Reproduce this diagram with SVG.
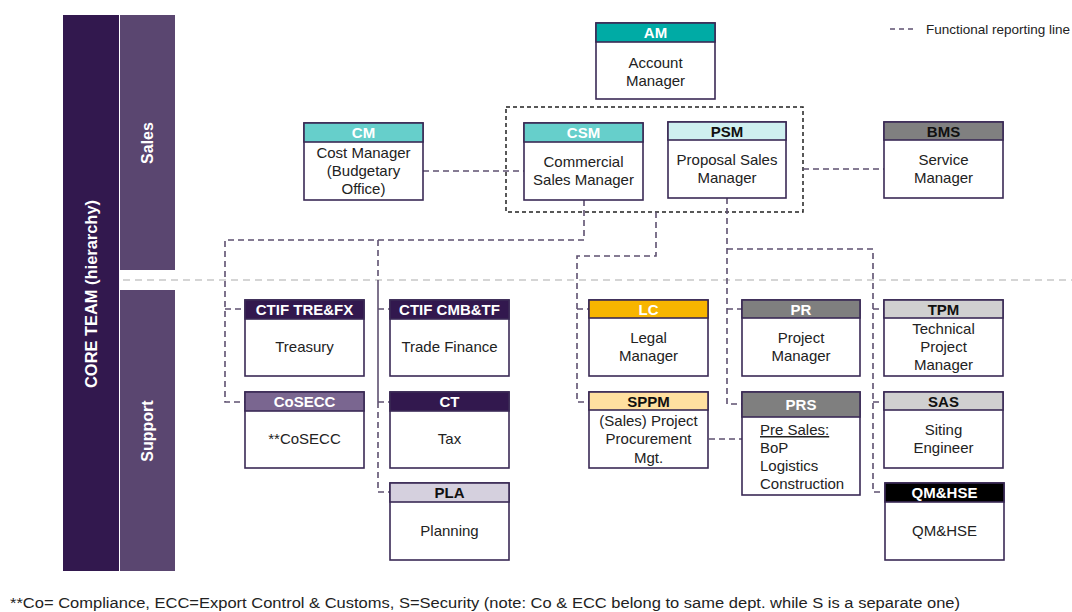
<svg xmlns="http://www.w3.org/2000/svg" width="1072" height="612" viewBox="0 0 1072 612">
<defs>
<style>
text{font-family:"Liberation Sans",Arial,sans-serif;}
.box{fill:#fff;stroke:#3a2a55;stroke-width:1.6;}
.hd{stroke:#3a2a55;stroke-width:1.6;}
.ht{font-size:15px;font-weight:bold;text-anchor:middle;fill:#fff;}
.htd{font-size:15px;font-weight:bold;text-anchor:middle;fill:#111;}
.bt{font-size:15px;text-anchor:middle;fill:#222;}
.bl{font-size:15px;fill:#222;}
.side{font-size:16px;font-weight:bold;fill:#fff;text-anchor:middle;}
.fl{fill:none;stroke:#5e5070;stroke-width:1.6;stroke-dasharray:6,4;}
.sl{fill:none;stroke:#5e5070;stroke-width:1.6;}
</style>
</defs>
<rect width="1072" height="612" fill="#fff"/>
<g id="bands">
<rect x="63" y="15" width="56" height="556" fill="#32184e"/>
<rect x="120" y="15" width="55" height="255" fill="#5a4670"/>
<rect x="120" y="290" width="55" height="281" fill="#5a4670"/>
<text class="side" transform="translate(97,294) rotate(-90)" textLength="188" lengthAdjust="spacingAndGlyphs">CORE TEAM (hierarchy)</text>
<text class="side" transform="translate(153,143) rotate(-90)">Sales</text>
<text class="side" transform="translate(153,431) rotate(-90)">Support</text>
<line x1="123" y1="280" x2="1072" y2="280" stroke="#c8c8c8" stroke-width="1.5" stroke-dasharray="7,5"/>
</g>
<g id="legend">
<line x1="890" y1="29" x2="916" y2="29" stroke="#5e5070" stroke-width="1.6" stroke-dasharray="5,4"/>
<text x="926" y="34" font-size="13.5" fill="#222">Functional reporting line</text>
</g>
<g id="connectors">
<rect x="506" y="107" width="297" height="105" fill="none" stroke="#222" stroke-width="1.5" stroke-dasharray="4,3"/>
<line class="fl" x1="423" y1="171" x2="524" y2="171"/>
<line class="fl" x1="803" y1="169" x2="884" y2="169"/>
<polyline class="fl" points="584,200 584,240 225,240 225,402 245,402"/>
<line class="fl" x1="225" y1="309" x2="245" y2="309"/>
<line class="fl" x1="378" y1="240" x2="378" y2="280"/>
<line class="sl" x1="378" y1="280" x2="378" y2="402"/>
<polyline class="fl" points="378,402 378,492 390,492"/>
<line class="fl" x1="378" y1="309" x2="390" y2="309"/>
<line class="fl" x1="378" y1="402" x2="390" y2="402"/>
<polyline class="fl" points="656,212 656,256 577,256 577,402 589,402"/>
<line class="fl" x1="577" y1="309" x2="589" y2="309"/>
<polyline class="fl" points="727,198 727,404 742,404"/>
<line class="fl" x1="727" y1="309" x2="742" y2="309"/>
<polyline class="fl" points="727,249 873,249 873,492 884,492"/>
<line class="fl" x1="873" y1="309" x2="884" y2="309"/>
<line class="fl" x1="873" y1="402" x2="884" y2="402"/>
<line class="fl" x1="709" y1="439" x2="742" y2="439"/>
</g>
<g id="AM">
<rect class="box" x="596" y="23" width="119" height="76"/>
<rect class="hd" x="596" y="23" width="119" height="19" fill="#00aba5"/>
<text class="ht" x="655.5" y="38">AM</text>
<text class="bt" x="655.5" y="68">Account</text>
<text class="bt" x="655.5" y="86">Manager</text>
</g>
<g id="CM">
<rect class="box" x="304" y="123" width="119" height="77"/>
<rect class="hd" x="304" y="123" width="119" height="19" fill="#66cfcb"/>
<text class="ht" x="363.5" y="138">CM</text>
<text class="bt" x="363.5" y="158">Cost Manager</text>
<text class="bt" x="363.5" y="176">(Budgetary</text>
<text class="bt" x="363.5" y="194">Office)</text>
</g>
<g id="CSM">
<rect class="box" x="524" y="123" width="119" height="77"/>
<rect class="hd" x="524" y="123" width="119" height="19" fill="#66cfcb"/>
<text class="ht" x="583.5" y="138">CSM</text>
<text class="bt" x="583.5" y="167">Commercial</text>
<text class="bt" x="583.5" y="185">Sales Manager</text>
</g>
<g id="PSM">
<rect class="box" x="668" y="122" width="118" height="76"/>
<rect class="hd" x="668" y="122" width="118" height="18" fill="#cff0f0"/>
<text class="htd" x="727" y="136.5">PSM</text>
<text class="bt" x="727" y="165">Proposal Sales</text>
<text class="bt" x="727" y="183">Manager</text>
</g>
<g id="BMS">
<rect class="box" x="884" y="122" width="119" height="76"/>
<rect class="hd" x="884" y="122" width="119" height="18" fill="#808080"/>
<text class="htd" x="943.5" y="136.5">BMS</text>
<text class="bt" x="943.5" y="165">Service</text>
<text class="bt" x="943.5" y="183">Manager</text>
</g>
<g id="CTIF_TREFX">
<rect class="box" x="245" y="300" width="119" height="76"/>
<rect class="hd" x="245" y="300" width="119" height="19" fill="#32184e"/>
<text class="ht" x="304.5" y="315">CTIF TRE&amp;FX</text>
<text class="bt" x="304.5" y="352">Treasury</text>
</g>
<g id="CoSECC">
<rect class="box" x="245" y="392" width="119" height="76"/>
<rect class="hd" x="245" y="392" width="119" height="19" fill="#7a6690"/>
<text class="ht" x="304.5" y="407">CoSECC</text>
<text class="bt" x="304.5" y="444">**CoSECC</text>
</g>
<g id="CTIF_CMBTF">
<rect class="box" x="390" y="300" width="119" height="76"/>
<rect class="hd" x="390" y="300" width="119" height="19" fill="#32184e"/>
<text class="ht" x="449.5" y="315">CTIF CMB&amp;TF</text>
<text class="bt" x="449.5" y="352">Trade Finance</text>
</g>
<g id="CT">
<rect class="box" x="390" y="392" width="119" height="76"/>
<rect class="hd" x="390" y="392" width="119" height="19" fill="#32184e"/>
<text class="ht" x="449.5" y="407">CT</text>
<text class="bt" x="449.5" y="444">Tax</text>
</g>
<g id="PLA">
<rect class="box" x="390" y="483" width="119" height="77"/>
<rect class="hd" x="390" y="483" width="119" height="19" fill="#d5d0de"/>
<text class="htd" x="449.5" y="498">PLA</text>
<text class="bt" x="449.5" y="536">Planning</text>
</g>
<g id="LC">
<rect class="box" x="589" y="300" width="119" height="76"/>
<rect class="hd" x="589" y="300" width="119" height="18" fill="#f8b500"/>
<text class="ht" x="648.5" y="314.5">LC</text>
<text class="bt" x="648.5" y="343">Legal</text>
<text class="bt" x="648.5" y="361">Manager</text>
</g>
<g id="SPPM">
<rect class="box" x="589" y="392" width="119" height="76"/>
<rect class="hd" x="589" y="392" width="119" height="18" fill="#ffe0a0"/>
<text class="htd" x="648.5" y="406.5">SPPM</text>
<text class="bt" x="648.5" y="426">(Sales) Project</text>
<text class="bt" x="648.5" y="444">Procurement</text>
<text class="bt" x="648.5" y="463">Mgt.</text>
</g>
<g id="PR">
<rect class="box" x="742" y="300" width="118" height="76"/>
<rect class="hd" x="742" y="300" width="118" height="18" fill="#7f7f7f"/>
<text class="ht" x="801" y="314.5">PR</text>
<text class="bt" x="801" y="343">Project</text>
<text class="bt" x="801" y="361">Manager</text>
</g>
<g id="PRS">
<rect class="box" x="742" y="392" width="118" height="103"/>
<rect class="hd" x="742" y="392" width="118" height="25" fill="#7f7f7f"/>
<text class="ht" x="801" y="410">PRS</text>
<text class="bl" x="760" y="435" text-decoration="underline">Pre Sales:</text>
<text class="bl" x="760" y="453">BoP</text>
<text class="bl" x="760" y="471">Logistics</text>
<text class="bl" x="760" y="489">Construction</text>
</g>
<g id="TPM">
<rect class="box" x="884" y="300" width="119" height="76"/>
<rect class="hd" x="884" y="300" width="119" height="18" fill="#d0d0d0"/>
<text class="htd" x="943.5" y="314.5">TPM</text>
<text class="bt" x="943.5" y="334">Technical</text>
<text class="bt" x="943.5" y="352">Project</text>
<text class="bt" x="943.5" y="370">Manager</text>
</g>
<g id="SAS">
<rect class="box" x="884" y="392" width="119" height="76"/>
<rect class="hd" x="884" y="392" width="119" height="18" fill="#d0d0d0"/>
<text class="htd" x="943.5" y="406.5">SAS</text>
<text class="bt" x="943.5" y="435">Siting</text>
<text class="bt" x="943.5" y="453">Engineer</text>
</g>
<g id="QMHSE">
<rect class="box" x="885" y="483" width="119" height="77"/>
<rect class="hd" x="885" y="483" width="119" height="19" fill="#000"/>
<text class="ht" x="944.5" y="498">QM&amp;HSE</text>
<text class="bt" x="944.5" y="536">QM&amp;HSE</text>
</g>
<g id="footnote">
<text x="10" y="608" font-size="14" fill="#222" textLength="950" lengthAdjust="spacingAndGlyphs">**Co= Compliance, ECC=Export Control &amp; Customs, S=Security (note: Co &amp; ECC belong to same dept. while S is a separate one)</text>
</g>
</svg>
